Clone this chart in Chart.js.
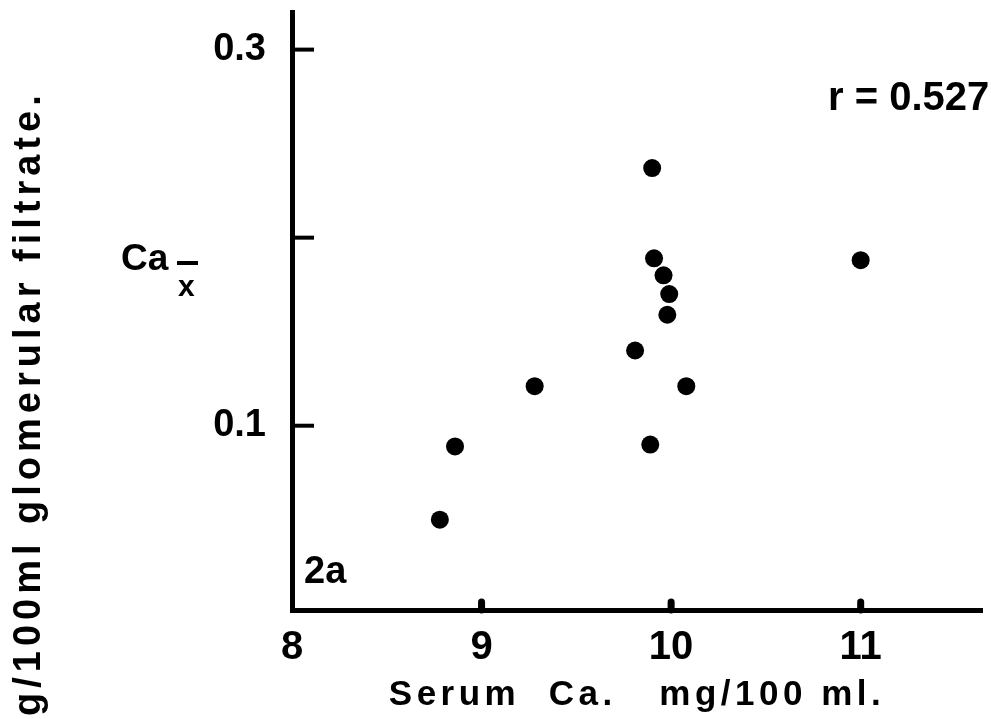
<!DOCTYPE html>
<html>
<head>
<meta charset="utf-8">
<script src="https://cdn.jsdelivr.net/npm/chart.js@4"></script>
<style>
  html, body { margin: 0; padding: 0; background: #fff; }
  #wrap { width: 991px; height: 719px; }
</style>
</head>
<body>
<div id="wrap"><canvas id="scatterChart" width="991" height="719"></canvas></div>
<script>
// Serum Ca (mg/100ml) against Ca excreted per 100ml glomerular filtrate
const serumCa = [9.90, 9.91, 9.96, 9.99, 9.98, 9.81, 9.28, 10.08, 9.89, 8.86, 8.78, 11.00];
const caExcreted = [0.237, 0.189, 0.180, 0.170, 0.159, 0.140, 0.121, 0.121, 0.090, 0.089, 0.050, 0.188];

const xTickValues = [8, 9, 10, 11];
const xTickLabels = ['8', '9', '10', '11'];
const yTickValues = [0.1, 0.2, 0.3];
const yTickLabels = ['0.1', '', '0.3'];

const FONT = '"Liberation Sans", Arial, sans-serif';

// inward tick marks + free text of the figure
const decorPlugin = {
    id: 'decor',
    afterDraw(chart) {
        const ctx = chart.ctx;
        const area = chart.chartArea;
        const xs = chart.scales.x;
        const ys = chart.scales.y;

        ctx.save();
        ctx.strokeStyle = '#000';
        ctx.fillStyle = '#000';

        // y ticks point into the plot
        ctx.lineWidth = 4;
        yTickValues.forEach(v => {
            const py = ys.getPixelForValue(v);
            ctx.beginPath();
            ctx.moveTo(area.left, py);
            ctx.lineTo(area.left + 22, py);
            ctx.stroke();
        });

        // x ticks are small bumps on the axis
        ctx.lineWidth = 7;
        ctx.lineCap = 'round';
        xTickValues.slice(1).forEach(v => {
            const px = xs.getPixelForValue(v);
            ctx.beginPath();
            ctx.moveTo(px, area.bottom);
            ctx.lineTo(px, area.bottom - 8);
            ctx.stroke();
        });

        // x axis title
        ctx.textBaseline = 'alphabetic';
        ctx.textAlign = 'center';
        ctx.font = 'bold 35px ' + FONT;
        if ('letterSpacing' in ctx) ctx.letterSpacing = '4.5px';
        ctx.fillText('Serum  Ca.   mg/100 ml.', (area.left + area.right) / 2, 705);

        // y axis title (rotated, runs off the bottom edge)
        ctx.save();
        ctx.translate(30, 716);
        ctx.rotate(-Math.PI / 2);
        ctx.textAlign = 'left';
        ctx.textBaseline = 'middle';
        ctx.font = 'bold 38px ' + FONT;
        if ('letterSpacing' in ctx) ctx.letterSpacing = '5px';
        ctx.fillText('g/100ml glomerular filtrate.', 0, 0);
        ctx.restore();

        if ('letterSpacing' in ctx) ctx.letterSpacing = '0px';
        ctx.textAlign = 'left';

        // Ca with x-bar subscript
        ctx.font = 'bold 37px ' + FONT;
        ctx.fillText('Ca', 121, 270);
        ctx.font = 'bold 30px ' + FONT;
        ctx.fillText('x', 178, 296);
        ctx.lineWidth = 4;
        ctx.lineCap = 'butt';
        ctx.beginPath();
        ctx.moveTo(177, 263);
        ctx.lineTo(198, 263);
        ctx.stroke();

        // correlation
        ctx.font = 'bold 40px ' + FONT;
        ctx.fillText('r = 0.527', 828, 110);

        // panel label
        ctx.font = 'bold 38px ' + FONT;
        ctx.fillText('2a', 304, 583);

        ctx.restore();
    }
};

const ctx = document.getElementById('scatterChart').getContext('2d');
const chart = new Chart(ctx, {
    type: 'scatter',
    data: {
        datasets: [{
            data: serumCa.map((x, i) => ({ x: x, y: caExcreted[i] })),
            backgroundColor: '#000',
            borderWidth: 0,
            pointRadius: 9,
            pointHoverRadius: 9
        }]
    },
    options: {
        responsive: false,
        animation: false,
        events: [],
        layout: {
            padding: { top: 12, right: 7, left: 0, bottom: 0 }
        },
        plugins: {
            legend: { display: false },
            tooltip: { enabled: false }
        },
        scales: {
            x: {
                type: 'linear',
                min: 8,
                max: 11.64,
                afterBuildTicks: scale => {
                    scale.ticks = xTickValues.map(v => ({ value: v }));
                },
                afterFit: scale => {
                    scale.height = 109;
                    scale.paddingLeft = 0;
                    scale.paddingRight = 0;
                },
                ticks: {
                    autoSkip: false,
                    maxRotation: 0,
                    padding: 14,
                    color: '#000',
                    font: { family: FONT, size: 40, weight: 'bold' },
                    callback: (value, index) => xTickLabels[index]
                },
                grid: { display: false, drawTicks: false },
                border: { display: true, color: '#000', width: 5 }
            },
            y: {
                type: 'linear',
                min: 0.002,
                max: 0.32,
                afterBuildTicks: scale => {
                    scale.ticks = yTickValues.map(v => ({ value: v }));
                },
                afterFit: scale => {
                    scale.width = 292;
                    scale.paddingTop = 0;
                    scale.paddingBottom = 0;
                },
                ticks: {
                    autoSkip: false,
                    padding: 26,
                    color: '#000',
                    font: { family: FONT, size: 38, weight: 'bold' },
                    callback: (value, index) => yTickLabels[index]
                },
                grid: { display: false, drawTicks: false },
                border: { display: true, color: '#000', width: 5 }
            }
        }
    },
    plugins: [decorPlugin]
});
</script>
</body>
</html>
